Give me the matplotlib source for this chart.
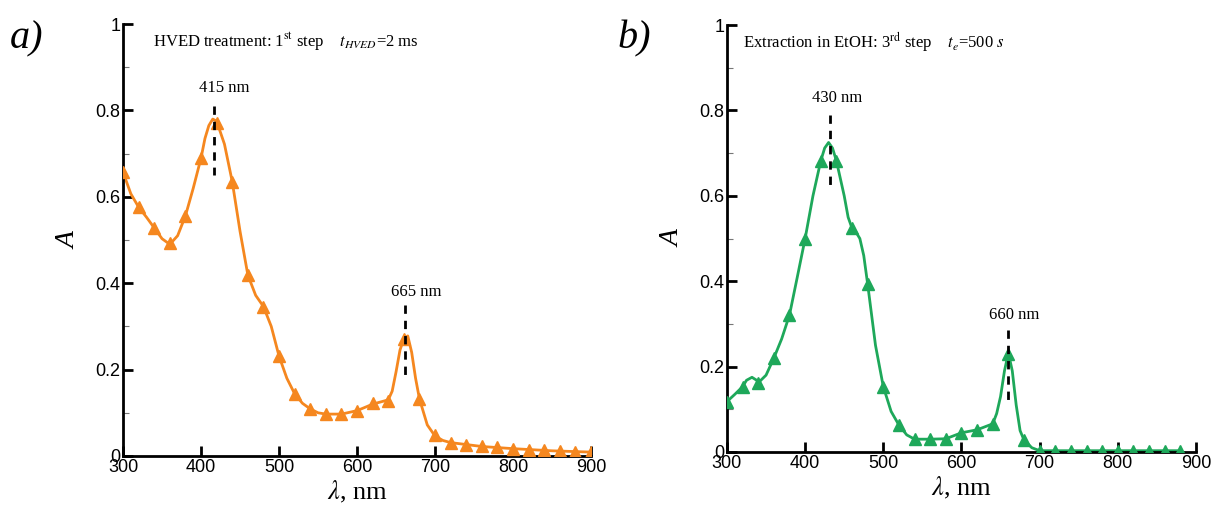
import numpy as np
import matplotlib
matplotlib.use("Agg")
from matplotlib import pyplot as plt
from matplotlib.ticker import MultipleLocator

plt.rcParams['font.family'] = ['Liberation Sans', 'DejaVu Sans']
plt.rcParams['mathtext.fontset'] = 'stix'

# panel a) HVED treatment, markers every 20 nm
wl_a = [300, 320, 340, 360, 380, 400, 420, 440, 460, 480, 500, 520, 540, 560, 580, 600,
        620, 640, 660, 680, 700, 720, 740, 760, 780, 800, 820, 840, 860, 880, 900]
abs_a = [0.657, 0.576, 0.528, 0.493, 0.556, 0.690, 0.770, 0.635, 0.419, 0.346, 0.231, 0.144,
         0.109, 0.097, 0.097, 0.105, 0.122, 0.128, 0.270, 0.132, 0.049, 0.031, 0.026, 0.022,
         0.020, 0.017, 0.015, 0.013, 0.012, 0.010, 0.009]
# smooth curve
line_wl_a = [300, 310, 320, 330, 340, 350, 360, 370, 380, 390, 400, 405, 410, 415, 420, 430,
             440, 450, 460, 470, 480, 490, 500, 510, 520, 530, 540, 550, 560, 580, 600, 620,
             640, 645, 650, 655, 660, 665, 670, 675, 680, 690, 700, 710, 720, 760, 800, 850, 900]
line_abs_a = [0.657, 0.607, 0.576, 0.553, 0.528, 0.503, 0.490, 0.510, 0.556, 0.620, 0.690,
              0.735, 0.765, 0.780, 0.775, 0.722, 0.635, 0.520, 0.419, 0.372, 0.346, 0.300,
              0.231, 0.180, 0.144, 0.122, 0.109, 0.100, 0.097, 0.097, 0.105, 0.120, 0.130,
              0.150, 0.195, 0.245, 0.272, 0.278, 0.240, 0.180, 0.132, 0.072, 0.046, 0.036,
              0.031, 0.022, 0.017, 0.012, 0.009]

# panel b) extraction in EtOH
wl_b = [300, 320, 340, 360, 380, 400, 420, 440, 460, 480, 500, 520, 540, 560, 580, 600,
        620, 640, 660, 680, 700, 720, 740, 760, 780, 800, 820, 840, 860, 880]
abs_b = [0.118, 0.153, 0.162, 0.220, 0.321, 0.500, 0.682, 0.682, 0.524, 0.393, 0.153, 0.063,
         0.030, 0.030, 0.031, 0.045, 0.052, 0.066, 0.230, 0.028, 0.003, 0.003, 0.003, 0.003,
         0.003, 0.003, 0.003, 0.003, 0.003, 0.003]
line_wl_b = [300, 310, 320, 325, 332, 338, 340, 350, 360, 370, 380, 390, 400, 410, 420, 425,
             430, 435, 440, 450, 455, 460, 465, 470, 475, 480, 490, 500, 510, 520, 530, 540,
             560, 580, 600, 620, 640, 645, 650, 655, 660, 665, 670, 675, 680, 690, 700, 880]
line_abs_b = [0.118, 0.135, 0.153, 0.168, 0.175, 0.168, 0.162, 0.180, 0.220, 0.265, 0.321,
              0.410, 0.500, 0.600, 0.682, 0.712, 0.725, 0.712, 0.682, 0.600, 0.550, 0.524,
              0.515, 0.500, 0.460, 0.393, 0.250, 0.153, 0.095, 0.063, 0.040, 0.030, 0.030,
              0.031, 0.045, 0.052, 0.066, 0.090, 0.130, 0.190, 0.232, 0.190, 0.110, 0.050,
              0.028, 0.010, 0.003, 0.003]

ORANGE = '#F5871F'
GREEN = '#1EA85A'


def panel(ax, wl, a, lwl, la, color, xmax):
    ax.plot(lwl, la, color=color, lw=2, zorder=2)
    ax.plot(wl, a, ls='none', marker='^', ms=8.5, color=color, zorder=3)
    ax.set_xlim(300, xmax)
    ax.set_ylim(0, 1)
    ax.set_xticks([300, 400, 500, 600, 700, 800, 900])
    ax.set_yticks([0, 0.2, 0.4, 0.6, 0.8, 1])
    ax.set_yticklabels(['0', '0.2', '0.4', '0.6', '0.8', '1'])
    ax.yaxis.set_minor_locator(MultipleLocator(0.1))
    for s in ['top', 'right']:
        ax.spines[s].set_visible(False)
    for s in ['left', 'bottom']:
        ax.spines[s].set_linewidth(2)
    ax.tick_params(which='major', direction='in', length=7, width=2, labelsize=13,
                   colors='black', pad=2)
    ax.tick_params(which='minor', direction='in', length=4, width=0.8, colors='#777777')
    ax.set_xlabel(r'$\lambda$, nm', family='Liberation Serif', fontsize=19, labelpad=2)
    ax.set_ylabel('A', family='Liberation Serif', style='italic', fontsize=20, labelpad=10)


def peak(ax, x, y0, y1, tx, ty, label):
    ax.plot([x, x], [y0, y1], color='black', lw=2, ls=(0, (3, 2.5)), zorder=4)
    ax.text(tx, ty, label, family='Liberation Serif', fontsize=12, ha='center', va='center')


fig = plt.figure(figsize=(12.11, 5.07), dpi=100)
ax1 = fig.add_axes([0.1016, 0.1006, 0.3865, 0.852])
ax2 = fig.add_axes([0.6003, 0.1085, 0.3873, 0.842])

panel(ax1, wl_a, abs_a, line_wl_a, line_abs_a, ORANGE, 900)
panel(ax2, wl_b, abs_b, line_wl_b, line_abs_b, GREEN, 900)

ax1.text(338, 0.958, r'HVED treatment: 1$^{\rm st}$ step    $t_{HVED}$=2 ms',
         family='Liberation Serif', fontsize=12, va='center')
ax2.text(320, 0.960, r'Extraction in EtOH: 3$^{\rm rd}$ step    $t_e$=500 $s$',
         family='Liberation Serif', fontsize=12, va='center')

peak(ax1, 417, 0.81, 0.65, 430, 0.852, '415 nm')
peak(ax1, 662, 0.35, 0.18, 676, 0.38, '665 nm')
peak(ax2, 432, 0.79, 0.625, 441, 0.83, '430 nm')
peak(ax2, 659, 0.285, 0.118, 668, 0.32, '660 nm')

fig.text(0.008, 0.905, 'a)', family='Liberation Serif', style='italic', fontsize=29)
fig.text(0.510, 0.905, 'b)', family='Liberation Serif', style='italic', fontsize=29)

fig.savefig('out.png', dpi=100)
